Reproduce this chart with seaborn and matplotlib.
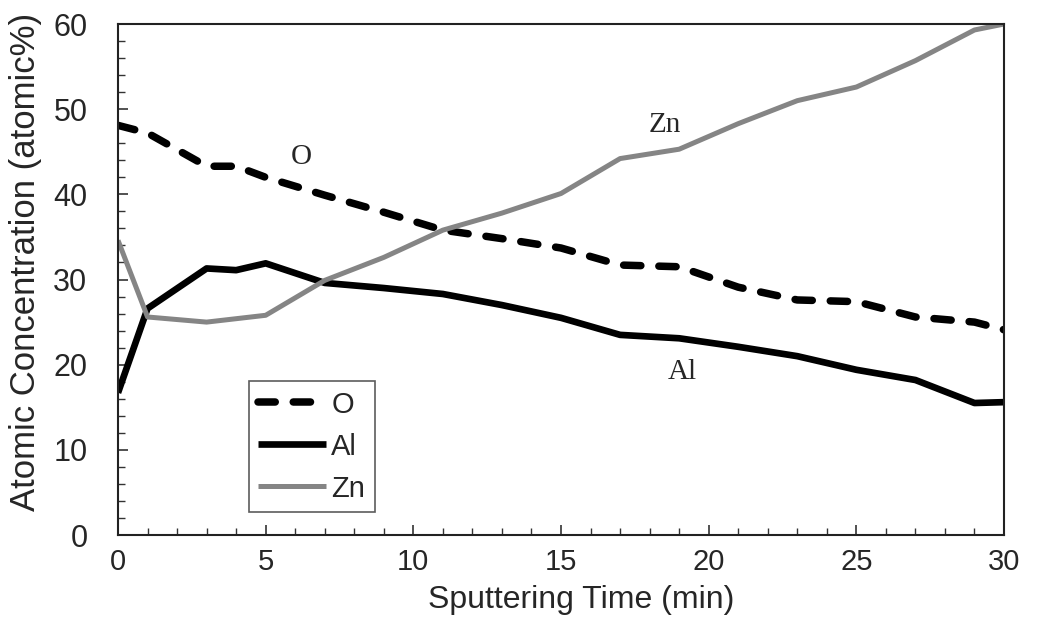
import pandas as pd
import seaborn as sns
import matplotlib.pyplot as plt
from matplotlib.ticker import MultipleLocator

# Sputtering time (min) and atomic concentration (atomic%)
time_min = [0, 1, 3, 4, 5, 7, 9, 11, 13, 15, 17, 19, 21, 23, 25, 27, 29, 30]
o_conc = [48.1, 47.2, 43.3, 43.3, 42.0, 39.9, 37.9, 35.8, 34.8, 33.7, 31.7, 31.5,
          29.1, 27.6, 27.4, 25.6, 25.0, 24.1]
al_conc = [16.7, 26.6, 31.3, 31.1, 31.9, 29.6, 29.0, 28.3, 27.0, 25.5, 23.5, 23.1,
           22.1, 21.0, 19.4, 18.2, 15.5, 15.6]
zn_conc = [34.6, 25.6, 25.0, 25.4, 25.8, 29.9, 32.6, 35.8, 37.8, 40.1, 44.2, 45.3,
           48.3, 51.0, 52.6, 55.7, 59.3, 60.0]

elements = ['O', 'Al', 'Zn']

# Long-form table for seaborn
data = pd.DataFrame({
    'time': time_min * 3,
    'conc': o_conc + al_conc + zn_conc,
    'element': [e for e in elements for _ in time_min],
})

sns.set_style('ticks')
plt.rcParams['font.family'] = ['Liberation Sans', 'DejaVu Sans']

fig = plt.figure(figsize=(10.37, 6.27), dpi=100)
ax = fig.add_axes([0.1138, 0.1467, 0.8544, 0.815])

# ------------------------------------------------------------------------------
# Lines
# ------------------------------------------------------------------------------
colors = {'O': 'black', 'Al': 'black', 'Zn': '#858585'}
widths = {'O': 5.4, 'Al': 4.8, 'Zn': 3.6}
for el in elements:
    sub = data[data['element'] == el]
    sns.lineplot(data=sub, x='time', y='conc', ax=ax, color=colors[el],
                 linewidth=widths[el], label=el, solid_capstyle='butt')

ax.lines[0].set_dashes([2.3, 2.4])
ax.lines[0].set_dash_capstyle('round')

# ------------------------------------------------------------------------------
# Axes, ticks, labels
# ------------------------------------------------------------------------------
ax.set_xlim(0, 30)
ax.set_ylim(0, 60)
ax.xaxis.set_major_locator(MultipleLocator(5))
ax.xaxis.set_minor_locator(MultipleLocator(1))
ax.yaxis.set_major_locator(MultipleLocator(10))
ax.yaxis.set_minor_locator(MultipleLocator(2))
ax.tick_params(axis='both', which='both', direction='in', color='#333333')
ax.tick_params(axis='both', which='major', length=7, width=1.2)
ax.tick_params(axis='both', which='minor', length=5, width=1.0)
ax.tick_params(axis='x', which='major', labelsize=21, pad=9)
ax.tick_params(axis='y', which='major', labelsize=22, pad=22)
for s in ax.spines.values():
    s.set_linewidth(1.5)
    s.set_color('#222222')

ax.set_xlabel('Sputtering Time (min)', fontsize=23)
ax.set_ylabel('Atomic Concentration (atomic%)', fontsize=25)
ax.xaxis.set_label_coords(0.5226, -0.098)
ax.yaxis.set_label_coords(-0.086, 0.534)

# Inline labels next to each curve
ax.text(6.2, 44.4, 'O', fontsize=21, family='Liberation Serif', ha='center', va='center')
ax.text(18.5, 48.2, 'Zn', fontsize=21, family='Liberation Serif', ha='center', va='center')
ax.text(19.1, 19.1, 'Al', fontsize=21, family='Liberation Serif', ha='center', va='center')

leg = ax.legend(loc='lower left', bbox_to_anchor=(0.148, 0.045), fontsize=21,
                handlelength=2.3, handletextpad=0.2, labelspacing=0.48,
                borderpad=0.32, fancybox=False, frameon=True, borderaxespad=0)
leg.get_frame().set_edgecolor('#333333')
leg.get_frame().set_linewidth(1.2)

plt.savefig('out.png', dpi=100, facecolor='white')
